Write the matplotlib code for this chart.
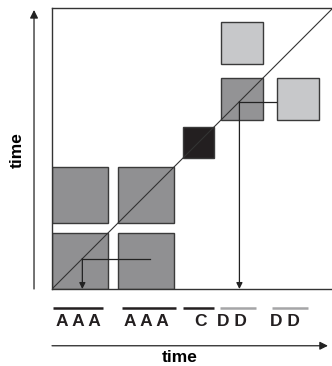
import matplotlib.pyplot as plt
from matplotlib.patches import Rectangle

plt.rcParams["font.family"] = ["Liberation Sans", "DejaVu Sans"]

# squares on the time x time plane: left, bottom, size, colour
sq_x = [0.0, 2.35, 0.0, 2.35, 4.65, 6.0, 6.0, 8.0]
sq_y = [0.0, 0.0, 2.35, 2.35, 4.65, 6.0, 8.0, 6.0]
sq_size = [2.0, 2.0, 2.0, 2.0, 1.1, 1.5, 1.5, 1.5]
sq_color = ["#909092", "#909092", "#909092", "#909092",
            "#231f20", "#939395", "#c7c8ca", "#c7c8ca"]

# projections from a square down onto the time axis: start x, diagonal point
proj_from = [3.5, 7.98]
proj_at = [1.08, 6.67]

# segments along the bottom time line
seg_start = [0.02, 2.48, 4.65, 5.98, 7.84]
seg_end = [1.83, 4.40, 5.77, 7.26, 9.10]
seg_color = ["#231f20", "#231f20", "#231f20", "#a5a5a7", "#a5a5a7"]
seg_label = ["A A A", "A A A", "C", "D D", "D D"]
label_x = [0.94, 3.37, 5.27, 6.42, 8.29]

fig = plt.figure(figsize=(3.32, 3.66), dpi=100)
ax = fig.add_axes([52 / 332, 77 / 366, 280 / 332, 281 / 366])
ax.set_xlim(0, 280 / 28.1)
ax.set_ylim(0, 10)
ax.set_xticks([])
ax.set_yticks([])
ax.spines["right"].set_visible(False)
for s in ["left", "top", "bottom"]:
    ax.spines[s].set_color("#333333")
    ax.spines[s].set_linewidth(1.0)

for x, y, s, c in zip(sq_x, sq_y, sq_size, sq_color):
    ax.add_patch(Rectangle((x, y), s, s, facecolor=c, edgecolor="#3a3a3a",
                           linewidth=1.0, zorder=2))

ax.plot([0, 10], [0, 10], color="#333333", lw=0.8, zorder=3)

for x0, t in zip(proj_from, proj_at):
    ax.plot([x0, t], [t, t], color="#222222", lw=0.9, zorder=4)
    ax.annotate("", xy=(t, 0), xytext=(t, t),
                arrowprops=dict(arrowstyle="-|>", color="#222222", lw=0.9,
                                mutation_scale=9, shrinkA=0, shrinkB=0),
                zorder=4)

for a, b, c, lab, lx in zip(seg_start, seg_end, seg_color, seg_label, label_x):
    ax.plot([a, b], [-0.68, -0.68], color=c, lw=1.8, clip_on=False,
            solid_capstyle="butt")
    ax.text(lx, -1.16, lab, ha="center", va="center", fontsize=12.5,
            fontweight="bold", color="#231f20")

# time axes
ax.annotate("", xy=(9.82, -2.02), xytext=(0, -2.02), annotation_clip=False,
            arrowprops=dict(arrowstyle="-|>", color="#222222", lw=0.9,
                            mutation_scale=12, shrinkA=0, shrinkB=0))
ax.annotate("", xy=(-0.64, 9.93), xytext=(-0.64, 0), annotation_clip=False,
            arrowprops=dict(arrowstyle="-|>", color="#222222", lw=0.9,
                            mutation_scale=12, shrinkA=0, shrinkB=0))
ax.text(4.55, -2.45, "time", ha="center", va="center", fontsize=12.5,
        fontweight="bold")
ax.text(-1.23, 4.95, "time", ha="center", va="center", fontsize=12.5,
        fontweight="bold", rotation=90)

fig.savefig("out.png", dpi=100)
